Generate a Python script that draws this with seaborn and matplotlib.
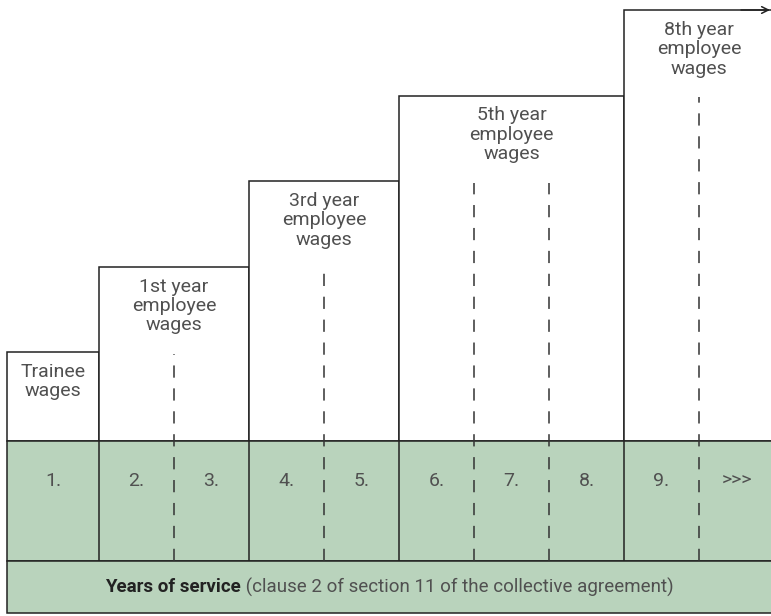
import numpy as np
import matplotlib.pyplot as plt
import seaborn as sns

# wage steps (label, level on the staircase, how many year cells they span)
step_labels = ["Trainee\nwages", "1st year\nemployee\nwages", "3rd year\nemployee\nwages",
               "5th year\nemployee\nwages", "8th year\nemployee\nwages"]
step_levels = [1, 2, 3, 4, 5]
cells_per_step = [1, 2, 2, 3, 2]
year_labels = ["1.", "2.", "3.", "4.", "5.", "6.", "7.", "8.", "9.", ">>>"]
footer_bold = "Years of service"
footer_rest = " (clause 2 of section 11 of the collective agreement)"

sns.set_theme(style="white")
plt.rcParams['font.family'] = ['Roboto', 'DejaVu Sans']

green = "#b9d3bc"
ink = "#222222"
txt = "#505050"

# layout in pixels
W, H = 771, 616
left = 7
first_w, cell_w = 92, 75
band_top, band_h, foot_h = 441, 120, 52
level_px, level_off = 85.5, 3.5

fig = plt.figure(figsize=(W / 100, H / 100), dpi=100)
ax = fig.add_axes([0, 0, 1, 1])
ax.set_xlim(0, W)
ax.set_ylim(H, 0)
ax.axis("off")

widths = np.array([first_w] + [cell_w] * (len(year_labels) - 1))
edges = left + np.concatenate([[0], np.cumsum(widths)])
band_bot = band_top + band_h

# staircase blocks
start = 0
for lab, lev, n in zip(step_labels, step_levels, cells_per_step):
    x0, x1 = edges[start], edges[start + n]
    top = band_top - level_off - lev * level_px
    ax.bar(x0, top - band_top, width=x1 - x0, bottom=band_top, align="edge",
           color="white", edgecolor=ink, linewidth=1.1)
    ax.text((x0 + x1) / 2, top + 11, lab, ha="center", va="top", fontsize=14,
            color=txt, linespacing=1.1)
    # dashed dividers between years of the same step (drawn from the bottom up)
    for k in range(start + 1, start + n):
        ax.vlines(edges[k], band_bot, top + 87, colors="#333333", linewidth=1.1,
                  linestyles=(0, (8, 7)), zorder=4)
    start += n

# arrow at the top right
top_last = band_top - level_off - step_levels[-1] * level_px
ax.annotate("", xy=(W - 1, top_last), xytext=(W - 30, top_last),
            arrowprops=dict(arrowstyle="->", color=ink, lw=1.1, shrinkA=0, shrinkB=0,
                            mutation_scale=12))

# years band
ax.bar(left, band_h, width=W + 20, bottom=band_top, align="edge",
       color=green, edgecolor=ink, linewidth=1.1, zorder=2)
bounds = np.cumsum(cells_per_step)[:-1]
ax.vlines(edges[bounds], band_top, band_bot, colors=ink, linewidth=1.1, zorder=3)
for i, y in enumerate(year_labels):
    ax.text((edges[i] + edges[i + 1]) / 2, band_top + 40, y, ha="center", va="center",
            fontsize=14, color=txt, zorder=5)

# footer band
ax.bar(left, foot_h, width=W + 20, bottom=band_bot, align="edge",
       color=green, edgecolor=ink, linewidth=1.1, zorder=2)
fy = band_bot + foot_h / 2
t1 = ax.text(0, fy, footer_bold, ha="left", va="center", fontsize=13.5,
             fontweight="bold", color=ink, zorder=5)
t2 = ax.text(0, fy, footer_rest, ha="left", va="center", fontsize=13.5,
             color=txt, zorder=5)
fig.canvas.draw()
r = fig.canvas.get_renderer()
w1 = t1.get_window_extent(r).width
w2 = t2.get_window_extent(r).width
x_start = (left + W) / 2 - (w1 + w2) / 2
t1.set_x(x_start)
t2.set_x(x_start + w1)

fig.savefig("out.png", dpi=100)
